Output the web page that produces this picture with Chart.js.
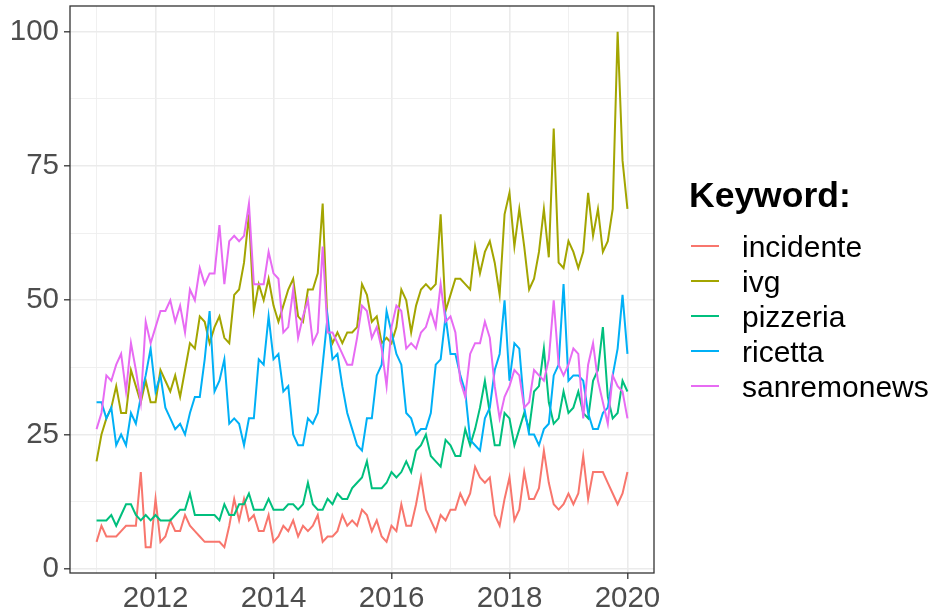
<!DOCTYPE html>
<html>
<head>
<meta charset="utf-8">
<script src="https://cdn.jsdelivr.net/npm/chart.js@4.4.1/dist/chart.umd.min.js"></script>
<style>
  html, body { margin: 0; padding: 0; background: #fff; }
  canvas { display: block; }
</style>
</head>
<body>
<canvas id="trends" width="935" height="614"></canvas>
<script>
// monthly search interest, Jan 2011 .. Jan 2020
var startYear = 2011;
var keywords = ['incidente', 'ivg', 'pizzeria', 'ricetta', 'sanremonews'];
var colors = ['#F8766D', '#A3A500', '#00BF7D', '#00B0F6', '#E76BF3'];

var incidente = [5,8,6,6,6,7,8,8,8,18,4,4,
  13,5,6,9,7,7,10,8,7,6,5,5,
  5,5,4,8,13,9,13,9,10,7,7,10,
  5,6,8,7,9,6,8,7,8,10,5,6,
  6,7,10,8,9,8,11,10,7,9,6,5,
  8,7,12,8,8,12,17,11,9,7,10,9,
  11,11,14,12,14,19,17,16,17,10,8,13,
  17,9,11,18,13,13,15,22,16,12,11,12,
  14,12,14,21,13,18,18,18,16,14,12,14,18];

var ivg = [20,25,28,30,34,29,29,37,34,31,35,31,
  31,37,35,33,36,32,37,42,41,47,46,42,
  45,47,43,42,51,52,57,66,48,53,50,54,
  49,46,49,52,54,47,46,52,52,55,68,45,
  42,44,42,44,44,45,53,51,46,47,42,43,
  42,45,52,50,44,49,52,53,52,53,66,48,
  51,54,54,53,52,60,55,59,61,57,51,66,
  70,60,67,60,52,54,59,67,58,82,57,56,
  61,59,56,59,70,62,67,59,61,67,100,76,67];

var pizzeria = [9,9,9,10,8,10,12,12,10,9,10,9,
  10,9,9,9,10,11,11,14,10,10,10,10,
  10,9,12,10,10,12,12,14,11,11,11,13,
  11,11,11,12,12,11,12,16,12,11,11,13,
  12,14,13,13,15,16,17,20,15,15,15,16,
  18,17,18,20,18,22,23,25,21,20,19,24,
  23,21,21,26,23,26,30,35,29,23,23,29,
  28,23,26,29,26,33,34,41,31,27,28,33,
  29,30,33,29,28,35,37,45,32,28,29,35,33];

var ricetta = [31,31,28,30,23,25,23,29,27,32,36,41,
  33,36,30,28,26,27,25,29,32,32,39,48,
  33,35,39,27,28,27,23,28,28,39,38,47,
  39,40,33,34,25,23,23,28,27,29,38,47,
  39,40,34,29,26,23,22,28,28,36,38,48,
  44,40,38,29,28,25,26,26,29,38,39,47,
  40,40,36,33,24,23,22,28,30,37,40,50,
  35,42,41,30,25,25,23,26,27,36,38,53,
  35,36,36,35,29,26,26,29,30,36,41,51,40];

var sanremonews = [26,29,36,35,38,40,33,42,37,31,46,42,
  45,48,48,50,46,49,44,52,50,56,53,55,
  55,64,53,61,62,61,62,68,53,53,53,59,
  55,54,44,45,52,43,47,50,42,44,60,44,
  44,42,40,38,38,43,49,48,43,45,41,34,
  45,49,48,41,42,41,44,45,48,45,53,46,
  47,44,35,32,40,42,42,46,43,34,28,32,
  34,37,36,30,31,37,36,35,39,50,38,36,
  38,41,40,28,38,42,35,31,27,36,34,33,28];

var xGridYears = [2011, 2012, 2013, 2014, 2015, 2016, 2017, 2018, 2019, 2020];
var yGridValues = [0, 12.5, 25, 37.5, 50, 62.5, 75, 87.5, 100];

var series = [incidente, ivg, pizzeria, ricetta, sanremonews];

function toPoints(values) {
  return values.map(function (v, i) {
    return { x: startYear + i / 12, y: v };
  });
}

var FONT = '"Liberation Sans", Arial, sans-serif';
var MAJOR = '#EBEBEB';
var MINOR = '#EEEEEE';

// panel border drawn over the lines, like ggplot
var panelBorder = {
  id: 'panelBorder',
  afterDatasetsDraw: function (chart) {
    var a = chart.chartArea, c = chart.ctx;
    c.save();
    c.strokeStyle = '#333333';
    c.lineWidth = 1.3;
    c.strokeRect(a.left, a.top, a.right - a.left, a.bottom - a.top);
    c.restore();
  }
};

var keywordLegend = {
  id: 'keywordLegend',
  afterDraw: function (chart) {
    var c = chart.ctx;
    c.save();
    c.fillStyle = '#000';
    c.textBaseline = 'alphabetic';
    c.font = 'bold 35.5px ' + FONT;
    c.fillText('Keyword:', 689, 207);
    c.font = '30px ' + FONT;
    chart.data.datasets.forEach(function (ds, i) {
      var y = 246 + i * 35;
      c.strokeStyle = ds.borderColor;
      c.lineWidth = 2;
      c.beginPath();
      c.moveTo(691, y);
      c.lineTo(719, y);
      c.stroke();
      c.fillText(ds.label, 742, y + 11);
    });
    c.restore();
  }
};

var ctx = document.getElementById('trends').getContext('2d');
var chart = new Chart(ctx, {
  type: 'line',
  data: {
    datasets: keywords.map(function (k, i) {
      return {
        label: k,
        data: toPoints(series[i]),
        borderColor: colors[i],
        backgroundColor: colors[i],
        borderWidth: 2,
        pointRadius: 0,
        fill: false,
        tension: 0,
        order: keywords.length - i
      };
    })
  },
  options: {
    responsive: false,
    animation: false,
    layout: { padding: { left: 0, top: 6, right: 281, bottom: 0 } },
    plugins: {
      legend: { display: false },
      tooltip: { enabled: false }
    },
    scales: {
      x: {
        type: 'linear',
        min: 2010.55,
        max: 2020.45,
        afterBuildTicks: function (scale) {
          scale.ticks = xGridYears.map(function (v) { return { value: v }; });
        },
        afterFit: function (scale) {
          scale.height = 41;
          scale.paddingLeft = 0;
          scale.paddingRight = 0;
        },
        border: { display: false },
        grid: {
          color: function (c) { return c.tick && c.tick.value % 2 === 0 ? MAJOR : MINOR; },
          lineWidth: function (c) { return c.tick && c.tick.value % 2 === 0 ? 1.6 : 0.9; },
          tickColor: function (c) { return c.tick && c.tick.value % 2 === 0 ? '#333333' : 'rgba(0,0,0,0)'; },
          tickWidth: 1.3,
          tickLength: 6,
          drawTicks: true
        },
        ticks: {
          autoSkip: false,
          maxRotation: 0,
          padding: 2,
          color: '#4D4D4D',
          font: { family: FONT, size: 29.5 },
          callback: function (v) { return v % 2 === 0 ? String(v) : ''; }
        }
      },
      y: {
        min: -0.8,
        max: 104.8,
        afterBuildTicks: function (scale) {
          scale.ticks = yGridValues.map(function (v) { return { value: v }; });
        },
        afterFit: function (scale) {
          scale.width = 70;
          scale.paddingTop = 0;
          scale.paddingBottom = 0;
        },
        border: { display: false },
        grid: {
          color: function (c) { return c.tick && c.tick.value % 25 === 0 ? MAJOR : MINOR; },
          lineWidth: function (c) { return c.tick && c.tick.value % 25 === 0 ? 1.6 : 0.9; },
          tickColor: function (c) { return c.tick && c.tick.value % 25 === 0 ? '#333333' : 'rgba(0,0,0,0)'; },
          tickWidth: 1.3,
          tickLength: 6,
          drawTicks: true
        },
        ticks: {
          autoSkip: false,
          padding: 5,
          color: '#4D4D4D',
          font: { family: FONT, size: 29.5 },
          callback: function (v) { return v % 25 === 0 ? String(v) : ''; }
        }
      }
    }
  },
  plugins: [panelBorder, keywordLegend]
});
</script>
</body>
</html>
